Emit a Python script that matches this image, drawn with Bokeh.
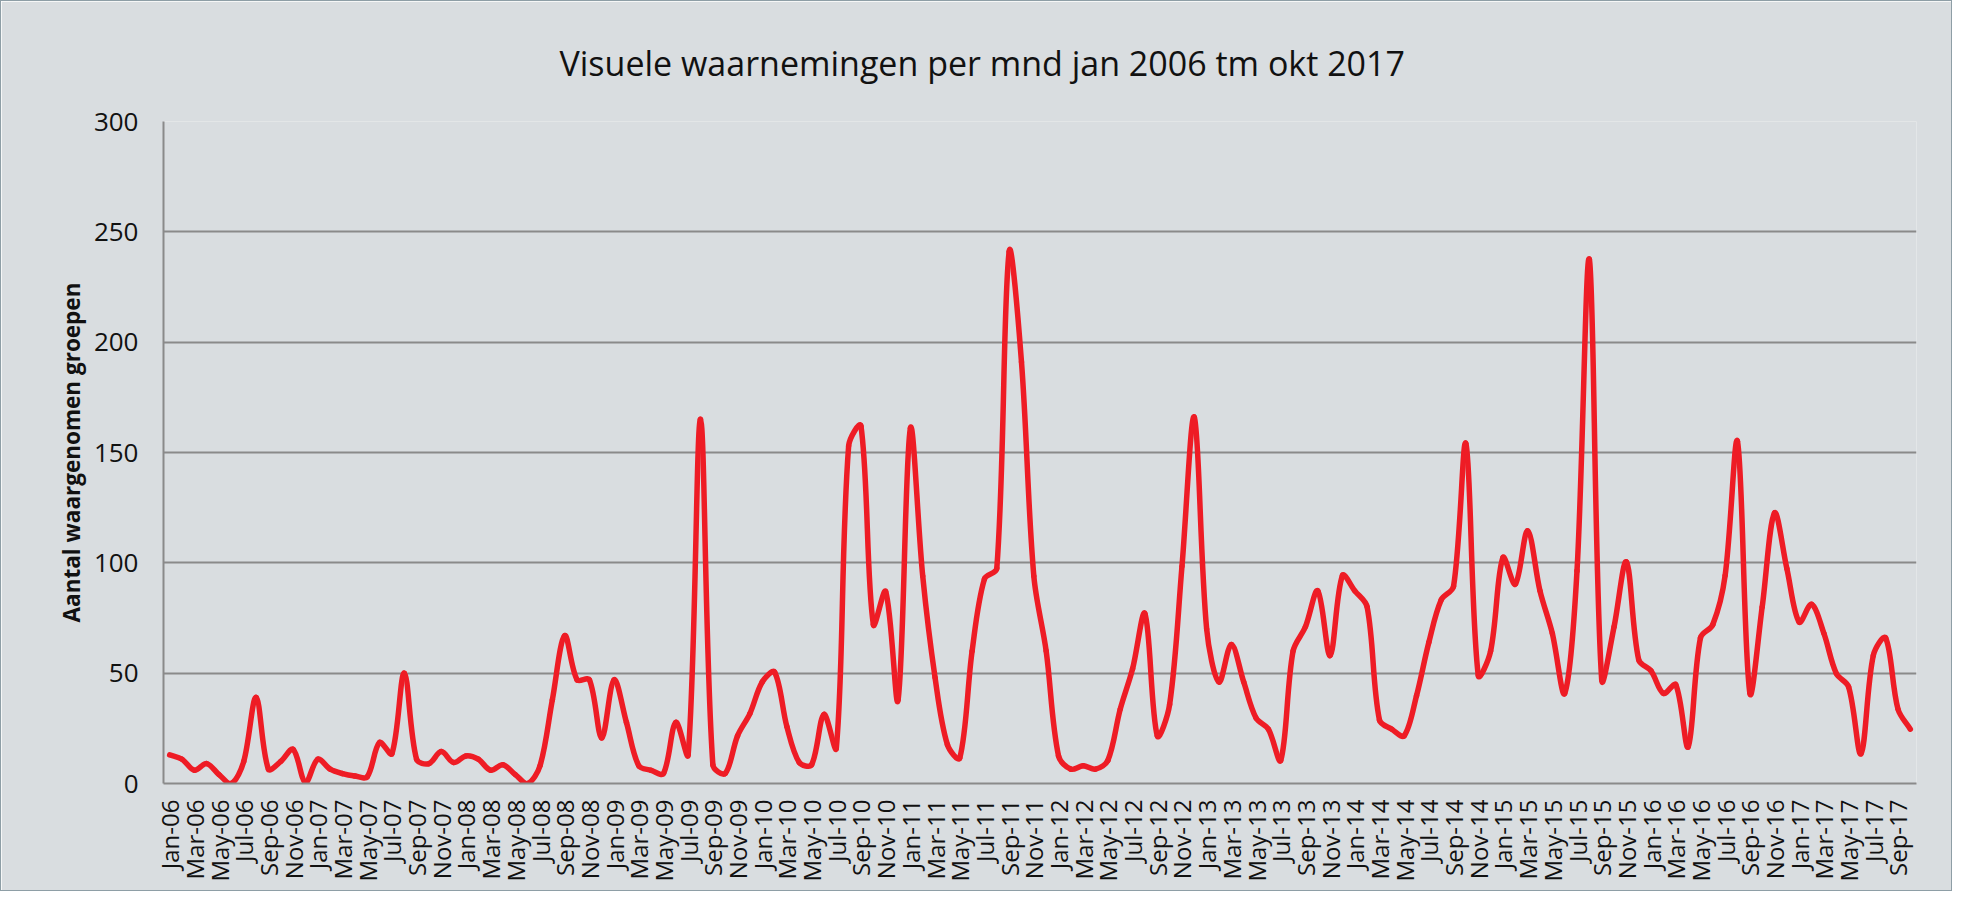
import numpy as np
from bokeh.plotting import figure
from bokeh.models import Range1d, FixedTicker, ColumnDataSource
from bokeh.embed import file_html
from bokeh.resources import INLINE

# ---- data -------------------------------------------------------------
tick_labels = [
    "Jan-06", "Mar-06", "May-06", "Jul-06", "Sep-06", "Nov-06",
    "Jan-07", "Mar-07", "May-07", "Jul-07", "Sep-07", "Nov-07",
    "Jan-08", "Mar-08", "May-08", "Jul-08", "Sep-08", "Nov-08",
    "Jan-09", "Mar-09", "May-09", "Jul-09", "Sep-09", "Nov-09",
    "Jan-10", "Mar-10", "May-10", "Jul-10", "Sep-10", "Nov-10",
    "Jan-11", "Mar-11", "May-11", "Jul-11", "Sep-11", "Nov-11",
    "Jan-12", "Mar-12", "May-12", "Jul-12", "Sep-12", "Nov-12",
    "Jan-13", "Mar-13", "May-13", "Jul-13", "Sep-13", "Nov-13",
    "Jan-14", "Mar-14", "May-14", "Jul-14", "Sep-14", "Nov-14",
    "Jan-15", "Mar-15", "May-15", "Jul-15", "Sep-15", "Nov-15",
    "Jan-16", "Mar-16", "May-16", "Jul-16", "Sep-16", "Nov-16",
    "Jan-17", "Mar-17", "May-17", "Jul-17", "Sep-17",
]

# monthly counts, Jan 2006 .. Oct 2017
counts = [
    13, 11, 6, 9, 4, 0, 10, 39, 6.5, 10,
    15.5, 0.5, 11, 6.5, 4.5, 3.4, 3, 18.6, 13.5, 50,
    11, 9, 14.5, 9.5, 12.5, 11, 6, 8.5, 4, 0,
    8, 38, 67, 47, 47, 20.6, 47, 27.7, 8, 6,
    4.5, 27.7, 13, 165, 8.5, 4.5, 21.6, 31.7, 46, 50.5,
    25.7, 9.5, 8.5, 31.3, 16, 153, 162, 72, 87, 37.8,
    161, 94, 48, 17.6, 11.5, 60, 92.7, 97.4, 241, 191,
    94, 60, 12.5, 6.5, 8, 6.5, 10.5, 33.7, 52, 77,
    21.6, 35.8, 98.4, 166, 70, 46, 63, 46, 29.7, 24.6,
    10.5, 60, 71, 87.3, 58, 94.3, 87.3, 80, 28.7, 24.6,
    21.6, 39.8, 64, 83.2, 89.3, 154, 49, 60, 102.4, 90.3,
    114.5, 87.3, 68, 40.8, 96.4, 237.5, 47, 71, 100.4, 56,
    51, 40.8, 44.8, 16.6, 66, 72, 94.3, 155, 41, 80,
    122.6, 97.4, 73.1, 81.2, 68, 49.9, 43.8, 13.5, 58, 66,
    33.7, 24.6,
]

title_text = "Visuele waarnemingen per mnd jan 2006 tm okt 2017"
y_label = "Aantal waargenomen groepen"
y_ticks = [0, 50, 100, 150, 200, 250, 300]

# ---- smoothed line (Excel-like smoothing: length-weighted Bezier tangents)
xs = np.arange(len(counts), dtype=float)
ys = np.array(counts, dtype=float)
n = len(xs)
SX, SY = 12.345, 2.21           # approx. screen px per data unit, for weighting only
seg = np.hypot(np.diff(xs) * SX, np.diff(ys) * SY)
idx = np.arange(n - 1)
prev_i = np.maximum(idx - 1, 0)
next_i = np.minimum(idx + 2, n - 1)
d_prev = np.concatenate([[0.0], seg[:-1]])
d_next = np.concatenate([seg[1:], [0.0]])
w0 = seg / (d_prev + seg) / 3.0
w1 = seg / (seg + d_next) / 3.0
x0, y0 = xs[idx], ys[idx]
x1, y1 = xs[idx + 1], ys[idx + 1]
cx0 = x0 + (x1 - xs[prev_i]) * w0
cy0 = y0 + (y1 - ys[prev_i]) * w0
cx1 = x1 - (xs[next_i] - x0) * w1
cy1 = y1 - (ys[next_i] - y0) * w1
src = ColumnDataSource(dict(x0=x0, y0=y0, x1=x1, y1=y1,
                            cx0=cx0, cy0=cy0, cx1=cx1, cy1=cy1))

# ---- figure -------------------------------------------------------------
bg = "#D9DDE0"
p = figure(width=1952, height=891, output_backend="svg", toolbar_location=None,
           x_range=Range1d(-0.5, n - 0.5), y_range=Range1d(0, 300),
           min_border_left=162, min_border_right=37,
           min_border_top=119, min_border_bottom=109,
           background_fill_color=bg, border_fill_color=bg,
           outline_line_color=None)
p.styles = {"border": "1px solid #8e9ea6"}

p.title.text = title_text
p.title.align = "left"
p.title.offset = 396
p.title.standoff = 72
p.title.text_font = "Open Sans"
p.title.text_font_size = "34px"
p.title.text_font_style = "normal"
p.title.text_color = "#111111"

p.bezier(x0="x0", y0="y0", x1="x1", y1="y1", cx0="cx0", cy0="cy0",
         cx1="cx1", cy1="cy1", source=src, line_color="#EE1C25",
         line_width=5.5, line_cap="round")

# y axis
p.yaxis.ticker = FixedTicker(ticks=y_ticks)
p.yaxis.axis_label = y_label
p.yaxis.axis_label_text_font = "Open Sans"
p.yaxis.axis_label_text_font_style = "bold"
p.yaxis.axis_label_text_font_size = "22.5px"
p.yaxis.axis_label_text_color = "#111111"
p.yaxis.axis_label_standoff = 4
p.yaxis.major_label_text_font = "Open Sans"
p.yaxis.major_label_text_font_size = "26px"
p.yaxis.major_label_text_color = "#111111"
p.yaxis.major_label_standoff = 19
p.yaxis.major_tick_line_color = None
p.yaxis.minor_tick_line_color = None
p.yaxis.axis_line_color = "#8a8a8a"
p.yaxis.axis_line_width = 2

# x axis
tick_pos = list(range(0, 2 * len(tick_labels), 2))
p.xaxis.ticker = FixedTicker(ticks=tick_pos)
p.xaxis.major_label_overrides = {t: lab for t, lab in zip(tick_pos, tick_labels)}
p.xaxis.major_label_orientation = np.pi / 2
p.xaxis.major_label_text_font = "Open Sans"
p.xaxis.major_label_text_font_size = "24px"
p.xaxis.major_label_text_color = "#111111"
p.xaxis.major_label_standoff = 10
p.xaxis.major_tick_line_color = None
p.xaxis.minor_tick_line_color = None
p.xaxis.axis_line_color = "#8a8a8a"
p.xaxis.axis_line_width = 2

p.xgrid.grid_line_color = None
p.ygrid.grid_line_color = "#8a8a8a"
p.ygrid.grid_line_width = 2

open("out.html", "w").write(file_html(p, INLINE))
